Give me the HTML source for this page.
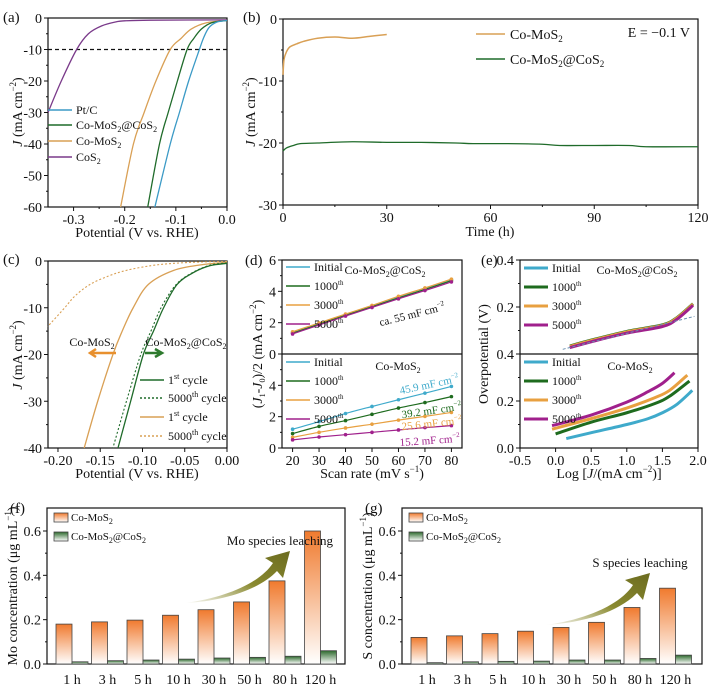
<!DOCTYPE html>
<html><head><meta charset="utf-8"><style>
html,body{margin:0;padding:0;background:#fff}
svg{display:block;font-family:"Liberation Serif","DejaVu Serif",serif}
text{fill:#111}
</style></head><body>
<svg id="fig" width="716" height="690" viewBox="0 0 716 690" xmlns="http://www.w3.org/2000/svg">
<defs>
<linearGradient id="gOr" x1="0" y1="0" x2="0" y2="1"><stop offset="0" stop-color="#f07a2e"/><stop offset="1" stop-color="#fff"/></linearGradient>
<linearGradient id="gGr" x1="0" y1="0" x2="0" y2="1"><stop offset="0" stop-color="#2d6a2d"/><stop offset="1" stop-color="#fff"/></linearGradient>
<linearGradient id="gAr" x1="0" y1="1" x2="1" y2="0"><stop offset="0" stop-color="#fff"/><stop offset="0.5" stop-color="#8a8a30"/><stop offset="1" stop-color="#6b6b1f"/></linearGradient>
</defs>
</svg>
<script>
// ---------- DATA ----------
// (a) LSV
const aPtV=[0,-0.02,-0.035,-0.045,-0.054,-0.075,-0.093,-0.111,-0.141];
const aPtJ=[-0.8,-1.3,-3,-6,-10,-20,-30,-40,-60];
const aCoCoV=[0,-0.03,-0.05,-0.065,-0.078,-0.097,-0.115,-0.132,-0.155];
const aCoCoJ=[-0.8,-1.5,-3.5,-6.5,-10,-20,-30,-40,-60];
const aCoMoV=[0,-0.04,-0.07,-0.09,-0.111,-0.139,-0.162,-0.183,-0.208];
const aCoMoJ=[-0.8,-1.5,-3.5,-6.5,-10,-20,-30,-40,-60];
const aCoSV=[0,-0.15,-0.2,-0.216,-0.245,-0.271,-0.294,-0.324,-0.35];
const aCoSJ=[-0.6,-0.7,-0.9,-1.2,-2.5,-5,-10,-20,-30];
// (b) stability
const bMoT=[0,0.3,1,2,4,6,10,15,20,25,30];
const bMoJ=[-9,-6.5,-5.3,-4.5,-4,-3.6,-3.1,-2.9,-3.1,-2.8,-2.5];
const bCoT=[0,1,3,5,10,20,30,40,50,55,65,75,80,90,100,105,120];
const bCoJ=[-21.3,-20.8,-20.4,-20.1,-20,-19.8,-19.9,-19.9,-20.0,-20.1,-20.1,-20.2,-20.4,-20.4,-20.4,-20.6,-20.6];
// (c) cycling
const cCo1V=[0,-0.02,-0.04,-0.059,-0.075,-0.087,-0.099,-0.114,-0.129];
const cCo1J=[-0.5,-1,-2.5,-5,-10,-15,-20,-30,-40];
const cCo5V=[0,-0.02,-0.04,-0.06,-0.078,-0.09,-0.102,-0.119,-0.135];
const cCo5J=[-0.4,-0.9,-2.4,-5,-10,-15,-20,-30,-40];
const cMo1V=[0,-0.03,-0.063,-0.093,-0.111,-0.124,-0.135,-0.153,-0.169];
const cMo1J=[-0.3,-0.8,-2,-5,-10,-15,-20,-30,-40];
const cMo5V=[0,-0.03,-0.063,-0.09,-0.119,-0.14,-0.162,-0.18,-0.192,-0.212];
const cMo5J=[-0.1,-0.2,-0.5,-1,-2,-3.2,-5,-7.5,-10,-14];
// (d) double layer capacitance
const dRates=[20,30,40,50,60,70,80];
const dUpInit=[1.38,1.95,2.52,3.08,3.65,4.2,4.75];
const dUp1000=[1.33,1.9,2.47,3.02,3.58,4.12,4.68];
const dUp3000=[1.42,1.98,2.55,3.1,3.68,4.22,4.78];
const dUp5000=[1.28,1.85,2.42,2.97,3.52,4.05,4.6];
const dLoInit=[1.2,1.68,2.2,2.65,3.08,3.5,3.93];
const dLo1000=[0.92,1.38,1.75,2.15,2.55,2.9,3.28];
const dLo3000=[0.68,1.0,1.28,1.52,1.78,2.02,2.27];
const dLo5000=[0.52,0.7,0.85,1.0,1.15,1.3,1.43];
// (e) Tafel
const eUpX=[0.2,0.5,1.0,1.5,1.7,1.93];
const eUpY=[0.03,0.055,0.092,0.12,0.15,0.21];
const eLoInitX=[0.15,0.5,1.0,1.3,1.5,1.7,1.92];
const eLoInitY=[0.04,0.065,0.1,0.125,0.15,0.185,0.245];
const eLo1000X=[0.0,0.5,1.0,1.4,1.6,1.88];
const eLo1000Y=[0.06,0.11,0.15,0.19,0.22,0.285];
const eLo3000X=[-0.05,0.5,1.0,1.4,1.6,1.85];
const eLo3000Y=[0.08,0.125,0.17,0.215,0.245,0.31];
const eLo5000X=[-0.05,0.5,1.0,1.3,1.5,1.67];
const eLo5000Y=[0.095,0.14,0.195,0.24,0.275,0.32];
// (f),(g) leaching
const hours=["1 h","3 h","5 h","10 h","30 h","50 h","80 h","120 h"];
const fMo=[0.18,0.19,0.198,0.22,0.245,0.28,0.375,0.60];
const fCo=[0.01,0.015,0.018,0.022,0.027,0.03,0.035,0.06];
const gMo=[0.12,0.127,0.137,0.148,0.165,0.188,0.255,0.342];
const gCo=[0.006,0.01,0.012,0.013,0.018,0.018,0.025,0.04];
const barTicks=[0,0.2,0.4,0.6];

// ---------- HELPERS ----------
const NS="http://www.w3.org/2000/svg";
const svg=document.getElementById('fig');
function mk(tag,attrs,parent){const e=document.createElementNS(NS,tag);for(const k in attrs)e.setAttribute(k,attrs[k]);(parent||svg).appendChild(e);return e;}
function lin(d0,d1,p0,p1){return v=>p0+(v-d0)*(p1-p0)/(d1-d0);}
function smooth(pts){let d=`M${pts[0][0]},${pts[0][1]}`;for(let i=0;i<pts.length-1;i++){const p0=pts[i-1]||pts[i],p1=pts[i],p2=pts[i+1],p3=pts[i+2]||p2;const c1=[p1[0]+(p2[0]-p0[0])/6,p1[1]+(p2[1]-p0[1])/6],c2=[p2[0]-(p3[0]-p1[0])/6,p2[1]-(p3[1]-p1[1])/6];d+=`C${c1[0]},${c1[1]} ${c2[0]},${c2[1]} ${p2[0]},${p2[1]}`;}return d;}
function curve(xs,ys,sx,sy,color,w,dash,name){
  const p=mk('path',{d:smooth(xs.map((x,i)=>[sx(x),sy(ys[i])])),fill:'none',stroke:color,'stroke-width':w,'stroke-dasharray':dash||'none','stroke-linejoin':'round'});
  
  
  return p;}
function txt(x,y,s,opt){opt=opt||{};const t=mk('text',{x:x,y:y,'font-size':opt.fs||14,'text-anchor':opt.a||'middle'});if(opt.rot)t.setAttribute('transform',`rotate(-90 ${x} ${y})`);t.innerHTML=s;
  
  
  return t;}
function frame(x0,y0,x1,y1,name){const r=mk('rect',{x:x0,y:y0,width:x1-x0,height:y1-y0,fill:'none',stroke:'#111','stroke-width':1.2});
  
  }
function yTicks(vals,sy,x,labels,minor,name){vals.forEach((v,i)=>{mk('line',{x1:x,x2:x-4,y1:sy(v),y2:sy(v),stroke:'#111'});txt(x-6,sy(v)+5,labels[i],{a:'end',name:name});});(minor||[]).forEach(v=>mk('line',{x1:x,x2:x-2,y1:sy(v),y2:sy(v),stroke:'#111'}));}
function xTicks(vals,sx,y,labels,minor,name){vals.forEach((v,i)=>{mk('line',{x1:sx(v),x2:sx(v),y1:y,y2:y+4,stroke:'#111'});txt(sx(v),y+17,labels[i],{name:name});});(minor||[]).forEach(v=>mk('line',{x1:sx(v),x2:sx(v),y1:y,y2:y+2,stroke:'#111'}));}
function legLine(x,y,color,dash,label,w){mk('line',{x1:x,x2:x+24,y1:y,y2:y,stroke:color,'stroke-width':w||1.5,'stroke-dasharray':dash||'none'});txt(x+28,y+4,label,{a:'start',fs:12,name:'legend-entry'});}
const C={pt:'#3b9ac6',cc:'#1f6b2a',cm:'#d9a055',cs:'#7a3a8a',in:'#3faacb',k1:'#1e6b1e',k3:'#e8a040',k5:'#a0208c'};

// ---------- (a) ----------
{const sx=lin(-0.35,0,48,227),sy=lin(0,-60,18,207);
 frame(48,18,227,207,'panel-a-plot');
 mk('line',{x1:48,x2:227,y1:sy(-10),y2:sy(-10),stroke:'#111','stroke-dasharray':'4,3','stroke-width':1.3});
 curve(aCoSV,aCoSJ,sx,sy,C.cs,1.3,null,'cos2-curve');
 curve(aCoMoV,aCoMoJ,sx,sy,C.cm,1.3,null,'comos2-curve');
 curve(aCoCoV,aCoCoJ,sx,sy,C.cc,1.3,null,'comos2-cos2-curve');
 curve(aPtV,aPtJ,sx,sy,C.pt,1.3,null,'ptc-curve');
 yTicks([0,-10,-20,-30,-40,-50,-60],sy,48,['0','-10','-20','-30','-40','-50','-60'],[-5,-15,-25,-35,-45,-55],'y-tick-a');
 xTicks([-0.3,-0.2,-0.1,0],sx,207,['-0.3','-0.2','-0.1','0.0'],[-0.25,-0.15,-0.05],'x-tick-a');
 legLine(48,110,C.pt,null,'Pt/C');legLine(48,125,C.cc,null,'Co-MoS<tspan font-size="8" dy="3">2</tspan><tspan dy="-3">@CoS</tspan><tspan font-size="8" dy="3">2</tspan>');
 legLine(48,141,C.cm,null,'Co-MoS<tspan font-size="8" dy="3">2</tspan>');legLine(48,157,C.cs,null,'CoS<tspan font-size="8" dy="3">2</tspan>');
 txt(3,22,'(a)',{a:'start',fs:15,name:'panel-a-label'});
 txt(22,112,'<tspan font-style="italic">J</tspan> (mA cm<tspan font-size="9" dy="-6">−2</tspan><tspan dy="6">)</tspan>',{rot:1,name:'y-axis-title-a'});
 txt(137,237,'Potential (V vs. RHE)',{name:'x-axis-title-a'});}

// ---------- (b) ----------
{const sx=lin(0,120,283,698),sy=lin(0,-30,19,205);
 frame(283,19,698,205,'panel-b-plot');
 curve(bCoT,bCoJ,sx,sy,C.cc,1.3,null,'comos2-cos2-stability');
 curve(bMoT,bMoJ,sx,sy,C.cm,1.5,null,'comos2-stability');
 yTicks([0,-10,-20,-30],sy,283,['0','-10','-20','-30'],[-5,-15,-25],'y-tick-b');
 xTicks([0,30,60,90,120],sx,205,['0','30','60','90','120'],[15,45,75,105],'x-tick-b');
 mk('line',{x1:476,x2:505,y1:34,y2:34,stroke:C.cm,'stroke-width':1.5});txt(510,39,'Co-MoS<tspan font-size="9" dy="3">2</tspan>',{a:'start',name:'legend-entry'});
 mk('line',{x1:476,x2:505,y1:59,y2:59,stroke:C.cc,'stroke-width':1.5});txt(510,64,'Co-MoS<tspan font-size="9" dy="3">2</tspan><tspan dy="-3">@CoS</tspan><tspan font-size="9" dy="3">2</tspan>',{a:'start',name:'legend-entry'});
 txt(690,37,'E = −0.1 V',{a:'end',name:'potential-annotation'});
 txt(243,22,'(b)',{a:'start',fs:15,name:'panel-b-label'});
 txt(255,112,'<tspan font-style="italic">J</tspan> (mA cm<tspan font-size="9" dy="-6">−2</tspan><tspan dy="6">)</tspan>',{rot:1,name:'y-axis-title-b'});
 txt(490,236,'Time (h)',{name:'x-axis-title-b'});}

// ---------- (c) ----------
{const sx=lin(-0.2118,0,48,227),sy=lin(0,-40,261,448);
 frame(48,261,227,448,'panel-c-plot');
 curve(cMo5V,cMo5J,sx,sy,C.cm,1.1,'2,2','comos2-5000-cycle');
 curve(cMo1V,cMo1J,sx,sy,C.cm,1.3,null,'comos2-1st-cycle');
 curve(cCo5V,cCo5J,sx,sy,C.cc,1.1,'2,2','comos2-cos2-5000-cycle');
 curve(cCo1V,cCo1J,sx,sy,C.cc,1.3,null,'comos2-cos2-1st-cycle');
 yTicks([0,-10,-20,-30,-40],sy,48,['0','-10','-20','-30','-40'],[-5,-15,-25,-35],'y-tick-c');
 xTicks([-0.2,-0.15,-0.1,-0.05,0],sx,448,['-0.20','-0.15','-0.10','-0.05','0.00'],[],'x-tick-c');
 mk('path',{d:'M116,353 L92,353 M96,349 L90,353 L96,357',stroke:'#e8902e','stroke-width':2.5,fill:'none'});
 mk('path',{d:'M145,353 L160,353 M155,349 L162,353 L155,357',stroke:'#2e7a2e','stroke-width':2.5,fill:'none'});
 txt(92,346,'Co-MoS<tspan font-size="8" dy="3">2</tspan>',{fs:12,name:'comos2-arrow-label'});
 txt(186,346,'Co-MoS<tspan font-size="8" dy="3">2</tspan><tspan dy="-3">@CoS</tspan><tspan font-size="8" dy="3">2</tspan>',{fs:12,name:'comos2-cos2-arrow-label'});
 legLine(140,380,C.cc,null,'1<tspan font-size="8" dy="-5">st</tspan><tspan dy="5"> cycle</tspan>');
 legLine(140,398,C.cc,'2,2','5000<tspan font-size="8" dy="-5">th</tspan><tspan dy="5"> cycle</tspan>');
 legLine(140,417,C.cm,null,'1<tspan font-size="8" dy="-5">st</tspan><tspan dy="5"> cycle</tspan>');
 legLine(140,436,C.cm,'2,2','5000<tspan font-size="8" dy="-5">th</tspan><tspan dy="5"> cycle</tspan>');
 txt(3,264,'(c)',{a:'start',fs:15,name:'panel-c-label'});
 txt(22,355,'<tspan font-style="italic">J</tspan> (mA cm<tspan font-size="9" dy="-6">−2</tspan><tspan dy="6">)</tspan>',{rot:1,name:'y-axis-title-c'});
 txt(137,478,'Potential (V vs. RHE)',{name:'x-axis-title-c'});}

// ---------- (d) ----------
{const sx=lin(16,84,282,462),syU=lin(0,6,354,260),syL=lin(0,6,448,354);
 frame(282,260,462,448,'panel-d-plot');mk('line',{x1:282,x2:462,y1:354,y2:354,stroke:'#111','stroke-width':1.2});
 const sets=[[dUpInit,C.in,'up-initial'],[dUp1000,C.k1,'up-1000'],[dUp3000,C.k3,'up-3000'],[dUp5000,C.k5,'up-5000']];
 sets.forEach(s=>{curve(dRates,s[0],sx,syU,s[1],1.2,null,'d-line-'+s[2]);s[0].forEach((v,i)=>{const c=mk('circle',{cx:sx(dRates[i]),cy:syU(v),r:1.8,fill:s[1]});
   
   });});
 const sets2=[[dLoInit,C.in,'lo-initial'],[dLo1000,C.k1,'lo-1000'],[dLo3000,C.k3,'lo-3000'],[dLo5000,C.k5,'lo-5000']];
 sets2.forEach(s=>{curve(dRates,s[0],sx,syL,s[1],1.2,null,'d-line-'+s[2]);s[0].forEach((v,i)=>{const c=mk('circle',{cx:sx(dRates[i]),cy:syL(v),r:1.8,fill:s[1]});
   
   });});
 yTicks([0,2,4,6],syU,282,['0','2','4','6'],[1,3,5],'y-tick-d');
 yTicks([0,2,4],syL,282,['0','2','4'],[1,3,5],'y-tick-d');
 xTicks(dRates,sx,448,dRates.map(String),[],'x-tick-d');
 const labs=['Initial','1000<tspan font-size="7" dy="-5">th</tspan>','3000<tspan font-size="7" dy="-5">th</tspan>','5000<tspan font-size="7" dy="-5">th</tspan>'];
 [C.in,C.k1,C.k3,C.k5].forEach((c,i)=>{legLine(286,267+i*19,c,null,labs[i]);legLine(286,362+i*19,c,null,labs[i]);});
 txt(385,274,'Co-MoS<tspan font-size="8" dy="3">2</tspan><tspan dy="-3">@CoS</tspan><tspan font-size="8" dy="3">2</tspan>',{fs:12,name:'d-upper-title'});
 txt(398,370,'Co-MoS<tspan font-size="8" dy="3">2</tspan>',{fs:12,name:'d-lower-title'});
 const ann=(x,y,s,c,r,n)=>{const t=txt(x,y,s,{fs:11,name:n});t.setAttribute('fill',c);t.setAttribute('transform',`rotate(${r} ${x} ${y})`);t.style.fill=c;};
 ann(413,318,'ca. 55 mF cm<tspan font-size="7" dy="-5">−2</tspan>','#111',-14,'d-annotation-55');
 ann(430,388,'45.9 mF cm<tspan font-size="7" dy="-5">−2</tspan>',C.in,-12,'d-annotation-459');
 ann(432,414,'39.2 mF cm<tspan font-size="7" dy="-5">−2</tspan>',C.k1,-8,'d-annotation-392');
 ann(432,427,'25.6 mF cm<tspan font-size="7" dy="-5">−2</tspan>',C.k3,-6,'d-annotation-256');
 ann(430,444,'15.2 mF cm<tspan font-size="7" dy="-5">−2</tspan>',C.k5,-4,'d-annotation-152');
 txt(245,265,'(d)',{a:'start',fs:15,name:'panel-d-label'});
 txt(262,354,'(<tspan font-style="italic">J</tspan><tspan font-size="8" dy="3">1</tspan><tspan dy="-3">-</tspan><tspan font-style="italic">J</tspan><tspan font-size="8" dy="3">0</tspan><tspan dy="-3">)/2 (mA cm</tspan><tspan font-size="9" dy="-6">−2</tspan><tspan dy="6">)</tspan>',{rot:1,name:'y-axis-title-d'});
 txt(372,478,'Scan rate (mV s<tspan font-size="9" dy="-6">−1</tspan><tspan dy="6">)</tspan>',{name:'x-axis-title-d'});}

// ---------- (e) ----------
{const sx=lin(-0.5,2.0,520,698),syU=lin(0,0.4,354,260),syL=lin(0,0.4,448,354);
 frame(520,260,698,448,'panel-e-plot');mk('line',{x1:520,x2:698,y1:354,y2:354,stroke:'#111','stroke-width':1.2});
 [[C.in,0],[C.k1,0.004],[C.k3,0.002],[C.k5,-0.003]].forEach((s,i)=>curve(eUpX,eUpY.map(v=>v+s[1]),sx,syU,s[0],3,null,'e-upper-curve-'+i));
 mk('path',{d:`M${sx(0.1)},${syU(0.02)} L${sx(1.95)},${syU(0.16)}`,stroke:'#6a8fb0','stroke-dasharray':'3,2',fill:'none'});
 curve(eLoInitX,eLoInitY,sx,syL,C.in,3,null,'e-lower-initial');
 curve(eLo1000X,eLo1000Y,sx,syL,C.k1,3,null,'e-lower-1000');
 curve(eLo3000X,eLo3000Y,sx,syL,C.k3,3,null,'e-lower-3000');
 curve(eLo5000X,eLo5000Y,sx,syL,C.k5,3,null,'e-lower-5000');
 yTicks([0,0.2,0.4],syU,520,['','0.2','0.4'],[0.1,0.3],'y-tick-e');
 yTicks([0,0.2,0.4],syL,520,['0.0','0.2','0.4'],[0.1,0.3],'y-tick-e');
 xTicks([-0.5,0,0.5,1,1.5,2],sx,448,['-0.5','0.0','0.5','1.0','1.5','2.0'],[],'x-tick-e');
 const labs=['Initial','1000<tspan font-size="7" dy="-5">th</tspan>','3000<tspan font-size="7" dy="-5">th</tspan>','5000<tspan font-size="7" dy="-5">th</tspan>'];
 [C.in,C.k1,C.k3,C.k5].forEach((c,i)=>{legLine(524,268+i*19,c,null,labs[i],3);legLine(524,362+i*19,c,null,labs[i],3);});
 txt(637,274,'Co-MoS<tspan font-size="8" dy="3">2</tspan><tspan dy="-3">@CoS</tspan><tspan font-size="8" dy="3">2</tspan>',{fs:12,name:'e-upper-title'});
 txt(630,370,'Co-MoS<tspan font-size="8" dy="3">2</tspan>',{fs:12,name:'e-lower-title'});
 txt(481,265,'(e)',{a:'start',fs:15,name:'panel-e-label'});
 txt(488,354,'Overpotential (V)',{rot:1,name:'y-axis-title-e'});
 txt(609,478,'Log [<tspan font-style="italic">J</tspan>/(mA cm<tspan font-size="9" dy="-6">−2</tspan><tspan dy="6">)]</tspan>',{name:'x-axis-title-e'});}

// ---------- bars ----------
function bars(x0,x1,top,bot,mo,co,label,title,arrowLabel,ax,ay,tag){
 const sy=lin(0,0.6,bot,531),c0=x0+25,step=35.5,w=16;
 frame(x0,top,x1,bot,tag+'-plot');
 hours.forEach((h,i)=>{const cx=c0+i*step;
   const r1=mk('rect',{x:cx-w,y:sy(mo[i]),width:w,height:bot-sy(mo[i]),fill:'url(#gOr)',stroke:'#444','stroke-width':0.8});
   
   
   const r2=mk('rect',{x:cx,y:sy(co[i]),width:w,height:bot-sy(co[i]),fill:'url(#gGr)',stroke:'#444','stroke-width':0.8});
   
   
   txt(cx,bot+20,h,{name:'x-tick-'+tag});});
 yTicks(barTicks,sy,x0,barTicks.map(v=>v.toFixed(1)),[0.1,0.3,0.5],'y-tick-'+tag);
 mk('rect',{x:x0+7,y:513,width:14,height:9,fill:'url(#gOr)',stroke:'#444','stroke-width':0.8});
 txt(x0+24,521,'Co-MoS<tspan font-size="8" dy="3">2</tspan>',{a:'start',fs:11,name:'legend-entry'});
 mk('rect',{x:x0+7,y:532,width:14,height:9,fill:'url(#gGr)',stroke:'#444','stroke-width':0.8});
 txt(x0+24,540,'Co-MoS<tspan font-size="8" dy="3">2</tspan><tspan dy="-3">@CoS</tspan><tspan font-size="8" dy="3">2</tspan>',{a:'start',fs:11,name:'legend-entry'});
 const ar=mk('path',{d:`M${ax},${ay} C${ax+40},${ay-5} ${ax+75},${ay-20} ${ax+88},${ay-40} L${ax+80},${ay-45} L${ax+105},${ay-52} L${ax+98},${ay-25} L${ax+92},${ay-32} C${ax+75},${ay-14} ${ax+40},${ay-2} ${ax},${ay} Z`,fill:'url(#gAr)'});
 
 
 txt(ax+95,ay-58,arrowLabel,{fs:13,name:tag+'-arrow-label'});
 txt(x0-37,top+5,label,{a:'start',fs:15,name:tag+'-panel-label'});
 txt(x0-30,586,title,{rot:1,name:'y-axis-title-'+tag});}
bars(47,345,508,664,fMo,fCo,'(f)','Mo concentration (μg mL<tspan font-size="9" dy="-6">−1</tspan><tspan dy="6">)</tspan>','Mo species leaching',185,603,'f');
bars(402,702,508,664,gMo,gCo,'(g)','S concentration (μg mL<tspan font-size="9" dy="-6">−1</tspan><tspan dy="6">)</tspan>','S species leaching',545,625,'g');
</script>
</body></html>
